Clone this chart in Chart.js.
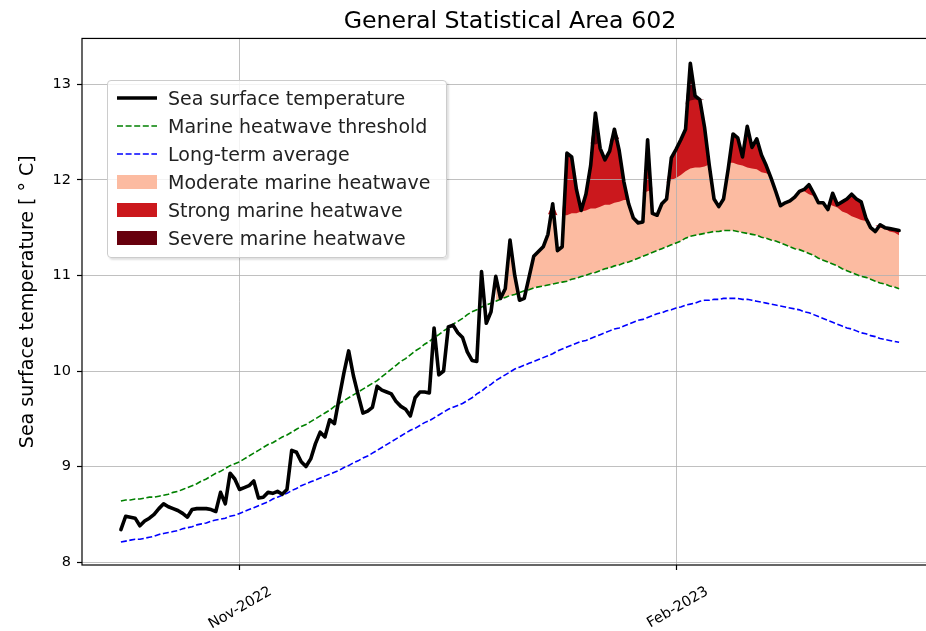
<!DOCTYPE html>
<html>
<head>
<meta charset="utf-8">
<script src="https://cdn.jsdelivr.net/npm/chart.js@4.4.0/dist/chart.umd.min.js"></script>
<style>
  html, body { margin: 0; padding: 0; background: #fff; overflow: hidden; }
  #wrap { position: relative; width: 926px; height: 631px; overflow: hidden; }
  #chart { position: absolute; left: 0; top: 0; }
  #legend { position: absolute; left: 107px; top: 80px; width: 340px; height: 178px; box-sizing: border-box;
    background: rgba(255,255,255,0.8); border: 1px solid #cccccc; border-radius: 4px;
    box-shadow: 2px 2px 2px rgba(0,0,0,0.12);
    font-family: 'DejaVu Sans', sans-serif; font-size: 19px; color: #222; }
  .row { position: absolute; left: 0; width: 100%; height: 28px; }
  .row svg { position: absolute; left: 9px; top: 7px; }
  .row span { position: absolute; left: 60px; top: 0; line-height: 28px; white-space: nowrap; }
</style>
</head>
<body>
<div id="wrap">
  <canvas id="chart" width="940" height="631"></canvas>
  <div id="legend"></div>
</div>
<script>
// days counted from 1 Nov 2022; the series starts on 7 Oct 2022
const firstDay = -25;

const sst = [
  8.34, 8.48, 8.47, 8.46, 8.38, 8.43, 8.46, 8.50, 8.56, 8.61,
  8.58, 8.56, 8.54, 8.51, 8.47, 8.55, 8.56, 8.56, 8.56, 8.55,
  8.53, 8.73, 8.61, 8.93, 8.87, 8.76, 8.78, 8.80, 8.85, 8.67,
  8.68, 8.73, 8.72, 8.74, 8.71, 8.76, 9.17, 9.15, 9.05, 9.00,
  9.08, 9.24, 9.36, 9.31, 9.49, 9.45, 9.72, 9.98, 10.21, 9.95,
  9.75, 9.56, 9.58, 9.62, 9.84, 9.80, 9.78, 9.76, 9.68, 9.63,
  9.60, 9.53, 9.72, 9.78, 9.78, 9.77, 10.45, 9.96, 10.00, 10.46,
  10.48, 10.40, 10.35, 10.20, 10.11, 10.10, 11.04, 10.50, 10.62, 10.99,
  10.76, 10.86, 11.37, 11.00, 10.74, 10.76, 10.98, 11.20, 11.25, 11.30,
  11.43, 11.75, 11.26, 11.30, 12.28, 12.24, 11.90, 11.68, 11.85, 12.15,
  12.70, 12.33, 12.21, 12.30, 12.53, 12.31, 11.98, 11.75, 11.60, 11.55,
  11.56, 12.42, 11.65, 11.63, 11.75, 11.80, 12.23, 12.32, 12.42, 12.53,
  13.22, 12.88, 12.84, 12.55, 12.15, 11.80, 11.72, 11.80, 12.12, 12.48,
  12.44, 12.24, 12.56, 12.34, 12.43, 12.26, 12.15, 12.02, 11.88, 11.73,
  11.76, 11.78, 11.82, 11.88, 11.90, 11.95, 11.86, 11.76, 11.76, 11.69,
  11.86, 11.74, 11.77, 11.80, 11.85, 11.80, 11.77, 11.60, 11.50, 11.46,
  11.53, 11.50, 11.49, 11.48, 11.47
];

const threshold = [
  8.64, 8.65, 8.65, 8.66, 8.66, 8.67, 8.68, 8.68, 8.69, 8.70,
  8.71, 8.73, 8.74, 8.76, 8.78, 8.80, 8.82, 8.85, 8.87, 8.90,
  8.93, 8.95, 8.98, 9.01, 9.03, 9.05, 9.08, 9.11, 9.14, 9.17,
  9.20, 9.23, 9.25, 9.28, 9.31, 9.33, 9.36, 9.39, 9.42, 9.44,
  9.47, 9.50, 9.53, 9.56, 9.59, 9.63, 9.66, 9.69, 9.72, 9.75,
  9.78, 9.81, 9.84, 9.87, 9.90, 9.94, 9.98, 10.02, 10.06, 10.10,
  10.13, 10.17, 10.21, 10.24, 10.28, 10.31, 10.35, 10.38, 10.42, 10.45,
  10.49, 10.52, 10.55, 10.59, 10.62, 10.64, 10.67, 10.69, 10.71, 10.73,
  10.75, 10.77, 10.79, 10.80, 10.82, 10.84, 10.85, 10.87, 10.88, 10.89,
  10.90, 10.91, 10.92, 10.93, 10.94, 10.96, 10.97, 10.99, 11.00, 11.02,
  11.03, 11.05, 11.07, 11.08, 11.10, 11.11, 11.13, 11.14, 11.16, 11.18,
  11.20, 11.22, 11.24, 11.26, 11.28, 11.30, 11.32, 11.34, 11.36, 11.39,
  11.41, 11.42, 11.43, 11.44, 11.45, 11.46, 11.46, 11.47, 11.47, 11.47,
  11.46, 11.45, 11.44, 11.43, 11.42, 11.40, 11.39, 11.37, 11.36, 11.34,
  11.32, 11.30, 11.28, 11.27, 11.25, 11.23, 11.21, 11.18, 11.16, 11.14,
  11.12, 11.10, 11.07, 11.05, 11.03, 11.01, 10.99, 10.98, 10.96, 10.94,
  10.92, 10.91, 10.89, 10.88, 10.86
];

const climatology = [
  8.21, 8.22, 8.23, 8.24, 8.24, 8.25, 8.26, 8.27, 8.29, 8.30,
  8.31, 8.32, 8.33, 8.35, 8.36, 8.37, 8.39, 8.40, 8.41, 8.43,
  8.44, 8.45, 8.46, 8.48, 8.49, 8.51, 8.53, 8.55, 8.57, 8.59,
  8.61, 8.63, 8.66, 8.68, 8.70, 8.72, 8.75, 8.77, 8.80, 8.82,
  8.84, 8.86, 8.88, 8.90, 8.92, 8.94, 8.96, 8.99, 9.01, 9.04,
  9.06, 9.09, 9.11, 9.14, 9.17, 9.20, 9.23, 9.26, 9.29, 9.32,
  9.35, 9.38, 9.40, 9.43, 9.46, 9.48, 9.51, 9.54, 9.57, 9.60,
  9.62, 9.64, 9.66, 9.69, 9.72, 9.76, 9.79, 9.83, 9.86, 9.90,
  9.93, 9.96, 9.99, 10.02, 10.04, 10.06, 10.08, 10.10, 10.12, 10.14,
  10.16, 10.18, 10.21, 10.23, 10.25, 10.27, 10.29, 10.31, 10.32, 10.34,
  10.36, 10.38, 10.40, 10.42, 10.44, 10.45, 10.47, 10.49, 10.51, 10.53,
  10.54, 10.56, 10.58, 10.60, 10.61, 10.63, 10.64, 10.66, 10.67, 10.69,
  10.70, 10.71, 10.73, 10.74, 10.74, 10.75, 10.75, 10.76, 10.76, 10.76,
  10.76, 10.75, 10.75, 10.74, 10.73, 10.72, 10.71, 10.70, 10.69, 10.68,
  10.67, 10.66, 10.65, 10.64, 10.62, 10.61, 10.59, 10.57, 10.55, 10.53,
  10.51, 10.49, 10.47, 10.45, 10.44, 10.42, 10.40, 10.39, 10.37, 10.36,
  10.34, 10.33, 10.32, 10.31, 10.30
];

const tickDays = [0, 92];
const tickLabels = ['Nov-2022', 'Feb-2023'];
const yTicks = [8, 9, 10, 11, 12, 13];

const colModerate = '#fcbba1';
const colStrong = '#cb181d';
const colSevere = '#67000d';
const FONT = "'DejaVu Sans', sans-serif";

const days = sst.map((_, i) => firstDay + i);
const xy = arr => arr.map((v, i) => ({ x: days[i], y: v }));

// category limits: threshold plus one / two times the threshold-climatology gap
const strongLimit = threshold.map((t, i) => t + (t - climatology[i]));
const severeLimit = threshold.map((t, i) => t + 2 * (t - climatology[i]));

// heatwave days: at least 5 days above threshold, gaps of 2 days or less are joined
function heatwaveMask(){
    const hot = sst.map((v, i) => v > threshold[i]);
    const runs = [];
    let start = -1;
    for(let i = 0; i <= hot.length; i++){
        if(i < hot.length && hot[i]){ if(start < 0) start = i; continue; }
        if(start >= 0){ if(i - start >= 5) runs.push([start, i - 1]); start = -1; }
    }
    const events = [];
    runs.forEach(r => {
        const last = events[events.length - 1];
        if(last && r[0] - last[1] - 1 <= 2) last[1] = r[1]; else events.push(r.slice());
    });
    const mask = sst.map(() => false);
    events.forEach(([a, b]) => { for(let i = a; i <= b; i++) mask[i] = true; });
    return mask;
}
const inEvent = heatwaveMask();

// top edge of a category band: the sst where it is above the band's base, during heatwave days only
const bandTop = base => sst.map((v, i) => ({ x: days[i], y: inEvent[i] ? Math.max(v, base[i]) : null }));

const noLine = { borderColor: 'rgba(0,0,0,0)', borderWidth: 0, pointRadius: 0, fill: false };

// draws the four-sided axes frame
const framePlugin = {
    id: 'frame',
    afterDraw(chart){
        const { ctx, chartArea: a } = chart;
        ctx.save();
        ctx.strokeStyle = '#000';
        ctx.lineWidth = 1.2;
        ctx.strokeRect(a.left, a.top, a.right - a.left, a.bottom - a.top);
        ctx.restore();
    }
};

new Chart(document.getElementById('chart').getContext('2d'), {
    type: 'line',
    data: {
        datasets: [
            { label: 'Sea surface temperature', data: xy(sst), borderColor: '#000', borderWidth: 3.6,
              borderJoinStyle: 'round', borderCapStyle: 'round', pointRadius: 0, fill: false, order: 0 },
            { label: 'Marine heatwave threshold', data: xy(threshold), borderColor: '#008000', borderWidth: 1.6,
              borderDash: [6, 2.6], pointRadius: 0, fill: false, order: 1 },
            { label: 'Long-term average', data: xy(climatology), borderColor: '#0000ff', borderWidth: 1.6,
              borderDash: [6, 2.6], pointRadius: 0, fill: false, order: 1 },
            { label: 'strong limit', data: xy(strongLimit), ...noLine, order: 9 },
            { label: 'severe limit', data: xy(severeLimit), ...noLine, order: 9 },
            { label: 'Moderate marine heatwave', data: bandTop(threshold), ...noLine, order: 6,
              fill: { target: 1 }, backgroundColor: colModerate },
            { label: 'Strong marine heatwave', data: bandTop(strongLimit), ...noLine, order: 5,
              fill: { target: 3 }, backgroundColor: colStrong },
            { label: 'Severe marine heatwave', data: bandTop(severeLimit), ...noLine, order: 4,
              fill: { target: 4 }, backgroundColor: colSevere }
        ]
    },
    options: {
        responsive: false,
        animation: false,
        layout: { padding: { left: 0, right: 2, top: 0, bottom: 0 } },
        plugins: {
            legend: { display: false },
            tooltip: { enabled: false },
            filler: { drawTime: 'beforeDraw' },
            title: { display: true, text: 'General Statistical Area 602', fullSize: false, color: '#000',
                     font: { family: FONT, size: 23.7, weight: 'normal' }, padding: { top: 8, bottom: 2 } }
        },
        scales: {
            x: {
                type: 'linear', min: -33.2, max: 147.2,
                afterBuildTicks: s => { s.ticks = tickDays.map(v => ({ value: v })); },
                afterFit: s => { s.height = 66; },
                grid: { color: '#b0b0b0', lineWidth: 0.8, tickColor: '#000', tickWidth: 1.2, tickLength: 5 },
                border: { display: false },
                ticks: { callback: (v, i) => tickLabels[i], minRotation: 30, maxRotation: 30, autoSkip: false,
                         labelOffset: 31, padding: 13, color: '#000', font: { family: FONT, size: 14.5 } }
            },
            y: {
                type: 'linear', min: 7.97, max: 13.48,
                afterBuildTicks: s => { s.ticks = yTicks.map(v => ({ value: v })); },
                afterFit: s => { s.width = 82; },
                grid: { color: '#b0b0b0', lineWidth: 0.8, tickColor: '#000', tickWidth: 1.2, tickLength: 5 },
                border: { display: false },
                ticks: { padding: 6, color: '#000', font: { family: FONT, size: 14.5 } },
                title: { display: true, text: 'Sea surface temperature [ ° C]', color: '#000',
                         font: { family: FONT, size: 19 }, padding: { top: 17, bottom: 0 } }
            }
        }
    },
    plugins: [framePlugin]
});

// legend box, drawn as page text over the plot
const legendItems = [
    { label: 'Sea surface temperature', line: '#000', width: 3.6 },
    { label: 'Marine heatwave threshold', line: '#008000', width: 1.6, dash: '6 2.6' },
    { label: 'Long-term average', line: '#0000ff', width: 1.6, dash: '6 2.6' },
    { label: 'Moderate marine heatwave', patch: colModerate },
    { label: 'Strong marine heatwave', patch: colStrong },
    { label: 'Severe marine heatwave', patch: colSevere }
];
const legend = document.getElementById('legend');
legendItems.forEach((it, i) => {
    const row = document.createElement('div');
    row.className = 'row';
    row.style.top = (3 + 28 * i) + 'px';
    const mark = it.patch
        ? `<rect x="0" y="0" width="40" height="14" fill="${it.patch}"/>`
        : `<line x1="0" y1="7" x2="40" y2="7" stroke="${it.line}" stroke-width="${it.width}"${it.dash ? ` stroke-dasharray="${it.dash}"` : ''}/>`;
    row.innerHTML = `<svg width="40" height="14">${mark}</svg><span>${it.label}</span>`;
    legend.appendChild(row);
});
</script>
</body>
</html>
